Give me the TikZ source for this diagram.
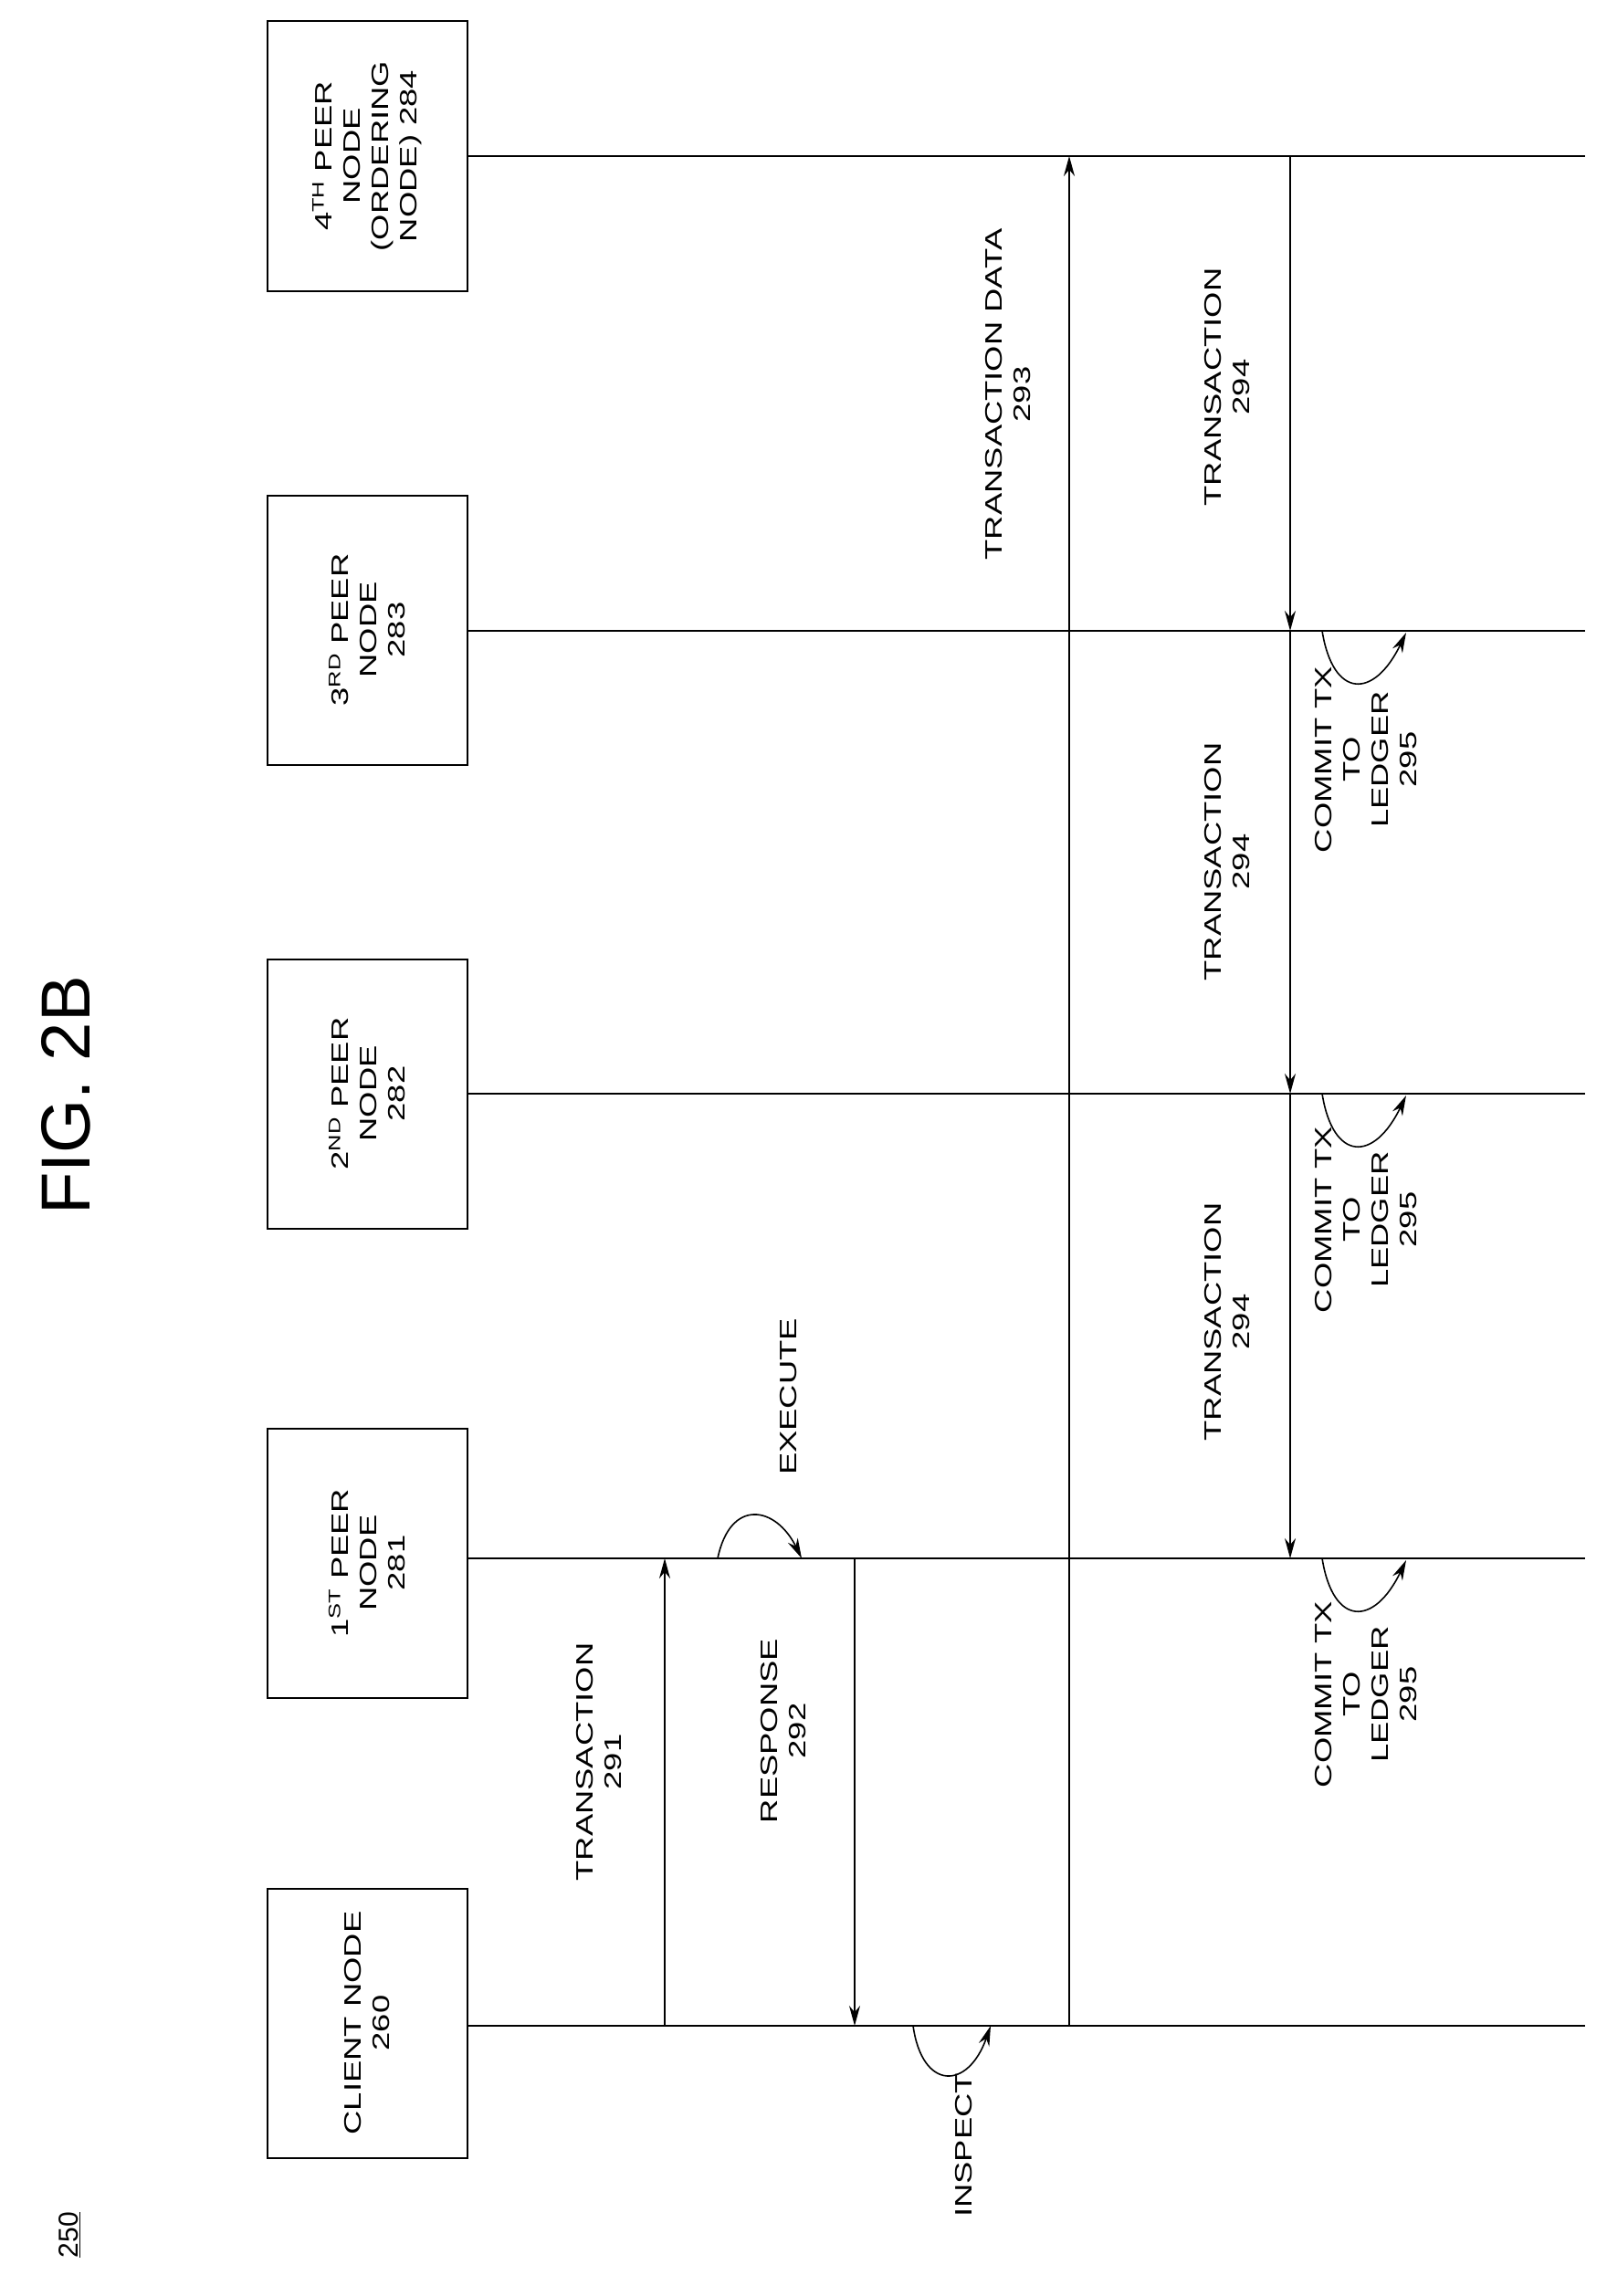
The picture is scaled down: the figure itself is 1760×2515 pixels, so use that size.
\documentclass[tikz,border=0pt]{standalone}
\usepackage{fontspec}
\setmainfont{Liberation Sans}
\newfontfamily\patfont{Liberation Sans}[FakeStretch=1.4]
\usetikzlibrary{arrows.meta}
\tikzstyle{peer} = [rectangle,
	rotate=90,
	minimum width=295pt,
	minimum height=219pt,
	align=center,
	draw=black,
	line width=2pt,
	font=\patfont\fontsize{26}{31}\selectfont
	]
\tikzstyle{life} = [line width=2.2pt]
\tikzstyle{arrow} = [line width=1.6pt,-{Stealth[length=22pt,width=12pt]}]
\tikzstyle{lbl} = [rotate=90, align=center, font=\patfont\fontsize{26}{31}\selectfont]

\begin{document}
\begin{tikzpicture}[x=1pt,y=-1pt]
\useasboundingbox (0,0) rectangle (1760,2515);

\node (fig) [rotate=90, font=\fontsize{76}{80}\selectfont] at (72,1200) {FIG. 2B};
\node (num) [rotate=90, font=\fontsize{30}{34}\selectfont] at (76,2448) {\underline{250}};

\node (client) [peer] at (402,2216) {CLIENT NODE\\260};
\node (p1) [peer] at (402,1712) {1\textsuperscript{ST} PEER\\NODE\\281};
\node (p2) [peer] at (402,1198) {2\textsuperscript{ND} PEER\\NODE\\282};
\node (p3) [peer] at (402,690) {3\textsuperscript{RD} PEER\\NODE\\283};
\node (p4) [peer] at (402,171) {4\textsuperscript{TH} PEER\\NODE\\(ORDERING\\NODE) 284};

% lifelines
\coordinate (cE) at (1736,2219);
\coordinate (p1E) at (1736,1707);
\coordinate (p2E) at (1736,1198);
\coordinate (p3E) at (1736,691);
\coordinate (p4E) at (1736,171);
\draw [life] (client.south |- cE) -- (cE);
\draw [life] (p1.south |- p1E) -- (p1E);
\draw [life] (p2.south |- p2E) -- (p2E);
\draw [life] (p3.south |- p3E) -- (p3E);
\draw [life] (p4.south |- p4E) -- (p4E);

% messages
\coordinate (t1a) at (728,2219);  \coordinate (t1b) at (728,1707);
\coordinate (r2a) at (936,1707);  \coordinate (r2b) at (936,2219);
\coordinate (d3a) at (1171,2219); \coordinate (d3b) at (1171,171);
\coordinate (x4) at (1413,171);   \coordinate (x3) at (1413,691);
\coordinate (x2) at (1413,1198);  \coordinate (x1) at (1413,1707);

\draw [arrow] (t1a) -- (t1b);
\draw [arrow] (r2a) -- (r2b);
\draw [arrow] (d3a) -- (d3b);
\draw [arrow] (x4) -- (x3);
\draw [arrow] (x3) -- (x2);
\draw [arrow] (x2) -- (x1);

\node (l291) [lbl] at (656,1930) {TRANSACTION\\291};
\node (l292) [lbl] at (858,1896) {RESPONSE\\292};
\node (l293) [lbl] at (1104,432) {TRANSACTION DATA\\293};
\node (l294a) [lbl] at (1344,424) {TRANSACTION\\294};
\node (l294b) [lbl] at (1344,944) {TRANSACTION\\294};
\node (l294c) [lbl] at (1344,1448) {TRANSACTION\\294};

% self loops
\coordinate (exA) at (786,1707); \coordinate (exB) at (878,1707);
\draw [arrow] (exA) .. controls (800,1640) and (850,1650) .. (exB);
\node (lex) [lbl] at (864,1530) {EXECUTE};

\coordinate (inA) at (1000,2219); \coordinate (inB) at (1085,2219);
\draw [arrow] (inA) .. controls (1010,2290) and (1060,2290) .. (inB);
\node (lin) [lbl] at (1056,2350) {INSPECT};

\foreach \n/\y/\ly in {1/1707/1856, 2/1198/1336, 3/691/832} {
  \coordinate (cm\n A) at (1448,\y);
  \coordinate (cm\n B) at (1540,\y+2);
  \draw [arrow] (cm\n A) .. controls (1460,\y+75) and (1505,\y+75) .. (cm\n B);
  \node (lcm\n) [lbl] at (1496,\ly) {COMMIT TX\\TO\\LEDGER\\295};
}

\end{tikzpicture}
\end{document}
